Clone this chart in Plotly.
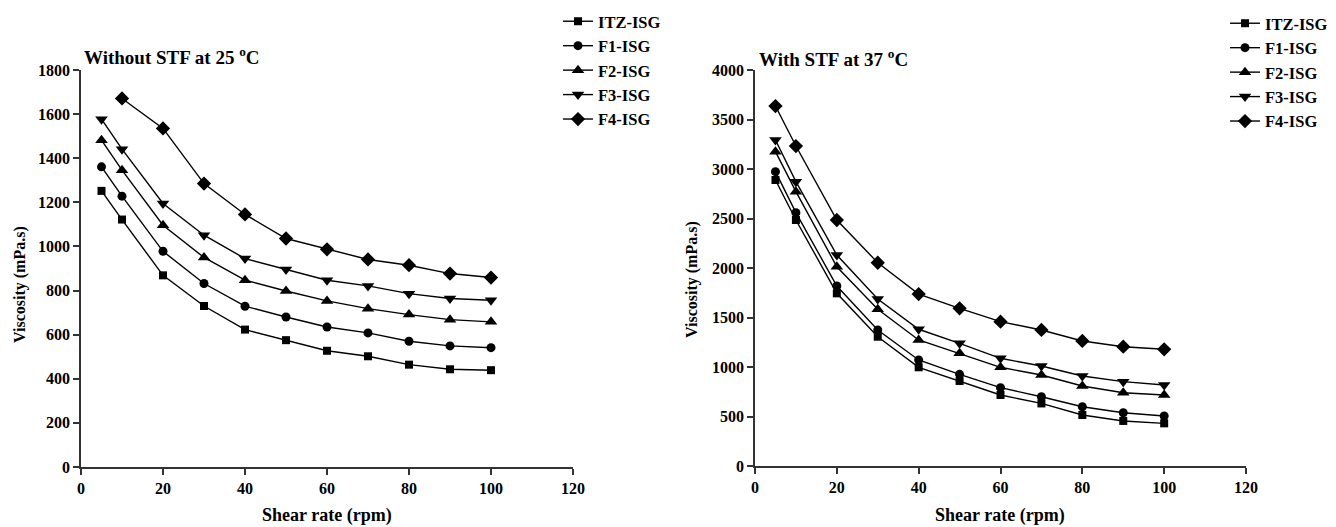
import plotly.graph_objects as go

# ---- data ----
shear_rate = [5, 10, 20, 30, 40, 50, 60, 70, 80, 90, 100]
series_names = ["ITZ-ISG", "F1-ISG", "F2-ISG", "F3-ISG", "F4-ISG"]

# Without STF at 25 °C
wo_itz = [1252, 1122, 869, 730, 623, 575, 527, 502, 464, 443, 439]
wo_f1 = [1361, 1228, 978, 832, 729, 680, 635, 608, 570, 549, 541]
wo_f2 = [1482, 1346, 1096, 950, 847, 798, 753, 718, 691, 668, 658]
wo_f3 = [1577, 1441, 1195, 1051, 945, 895, 847, 821, 786, 764, 756]
wo_f4 = [None, 1671, 1535, 1285, 1145, 1036, 987, 941, 915, 877, 859]

# With STF at 37 °C
w_itz = [2889, 2485, 1744, 1306, 997, 859, 717, 632, 515, 455, 431]
w_f1 = [2973, 2559, 1818, 1374, 1071, 926, 791, 700, 599, 538, 505]
w_f2 = [3175, 2771, 2013, 1583, 1273, 1138, 997, 919, 808, 740, 717]
w_f3 = [3293, 2872, 2131, 1687, 1381, 1239, 1088, 1010, 909, 852, 818]
w_f4 = [3636, 3232, 2485, 2053, 1737, 1593, 1458, 1374, 1263, 1205, 1179]

x_ticks = [0, 20, 40, 60, 80, 100, 120]
y_ticks_left = [0, 200, 400, 600, 800, 1000, 1200, 1400, 1600, 1800]
y_ticks_right = [0, 500, 1000, 1500, 2000, 2500, 3000, 3500, 4000]

symbols = ["square", "circle", "triangle-up", "triangle-down", "diamond"]
sizes = [8, 9, 11, 11, 11]

FONT = "Liberation Serif"
W, H = 1336, 527
OFF = 8  # page body margin offset

fig = go.Figure()

left_sets = [wo_itz, wo_f1, wo_f2, wo_f3, wo_f4]
right_sets = [w_itz, w_f1, w_f2, w_f3, w_f4]

for name, ys, sym, sz in zip(series_names, left_sets, symbols, sizes):
    fig.add_trace(go.Scatter(
        x=shear_rate, y=ys, name=name, mode="lines+markers",
        line=dict(color="black", width=1.4),
        marker=dict(symbol=sym, size=sz, color="black"),
        xaxis="x", yaxis="y", legend="legend", connectgaps=False))

for name, ys, sym, sz in zip(series_names, right_sets, symbols, sizes):
    fig.add_trace(go.Scatter(
        x=shear_rate, y=ys, name=name, mode="lines+markers",
        line=dict(color="black", width=1.4),
        marker=dict(symbol=sym, size=sz, color="black"),
        xaxis="x2", yaxis="y2", legend="legend2"))

def px_x(p):
    return (p - OFF) / W

def px_y(p):
    return 1 - (p - OFF) / H

tickfont = dict(family=FONT, size=16, color="black", weight="bold")

axis_common = dict(
    showgrid=False, zeroline=False, showline=True, linecolor="#333",
    linewidth=1.6, ticks="outside", ticklen=6, tickwidth=1.6,
    tickcolor="#333", tickfont=tickfont, automargin=False)

legend_font = dict(family=FONT, size=16.5, color="black", weight="bold")

fig.update_layout(
    template="none",
    width=W, height=H,
    margin=dict(l=0, r=0, t=0, b=0, pad=0, autoexpand=False),
    paper_bgcolor="white", plot_bgcolor="white",
    xaxis=dict(domain=[px_x(81), px_x(573)], range=[0, 120],
               tickvals=x_ticks, anchor="y", **axis_common),
    yaxis=dict(domain=[px_y(467), px_y(70)], range=[0, 1800],
               tickvals=y_ticks_left, anchor="x", **axis_common),
    xaxis2=dict(domain=[px_x(755), px_x(1246)], range=[0, 120],
                tickvals=x_ticks, anchor="y2", **axis_common),
    yaxis2=dict(domain=[px_y(466), px_y(70)], range=[0, 4000],
                tickvals=y_ticks_right, anchor="x2", **axis_common),
    legend=dict(x=px_x(558), y=px_y(4), xanchor="left", yanchor="top",
                font=legend_font, bgcolor="rgba(0,0,0,0)",
                tracegroupgap=0, itemwidth=30),
    legend2=dict(x=px_x(1225), y=px_y(6), xanchor="left", yanchor="top",
                 font=legend_font, bgcolor="rgba(0,0,0,0)",
                 tracegroupgap=0, itemwidth=30),
    showlegend=True,
)

title_font = dict(family=FONT, size=19, color="black", weight="bold")
label_font = dict(family=FONT, size=18, color="black", weight="bold")
ytitle_font = dict(family=FONT, size=16, color="black", weight="bold")

annotations = [
    dict(text="Without STF at 25 <sup>o</sup>C", x=px_x(82), y=px_y(56),
         xanchor="left", yanchor="middle", font=title_font),
    dict(text="With STF at 37 <sup>o</sup>C", x=px_x(757), y=px_y(58),
         xanchor="left", yanchor="middle", font=title_font),
    dict(text="Shear rate (rpm)", x=px_x(327), y=px_y(515),
         xanchor="center", yanchor="middle", font=label_font),
    dict(text="Shear rate (rpm)", x=px_x(1000), y=px_y(515),
         xanchor="center", yanchor="middle", font=label_font),
    dict(text="Viscosity (mPa.s)", x=px_x(20), y=px_y(285), textangle=-90,
         xanchor="center", yanchor="middle", font=ytitle_font),
    dict(text="Viscosity (mPa.s)", x=px_x(692), y=px_y(280), textangle=-90,
         xanchor="center", yanchor="middle", font=ytitle_font),
]
for a in annotations:
    a.update(xref="paper", yref="paper", showarrow=False)
fig.update_layout(annotations=annotations)

fig.write_html("out.html")
